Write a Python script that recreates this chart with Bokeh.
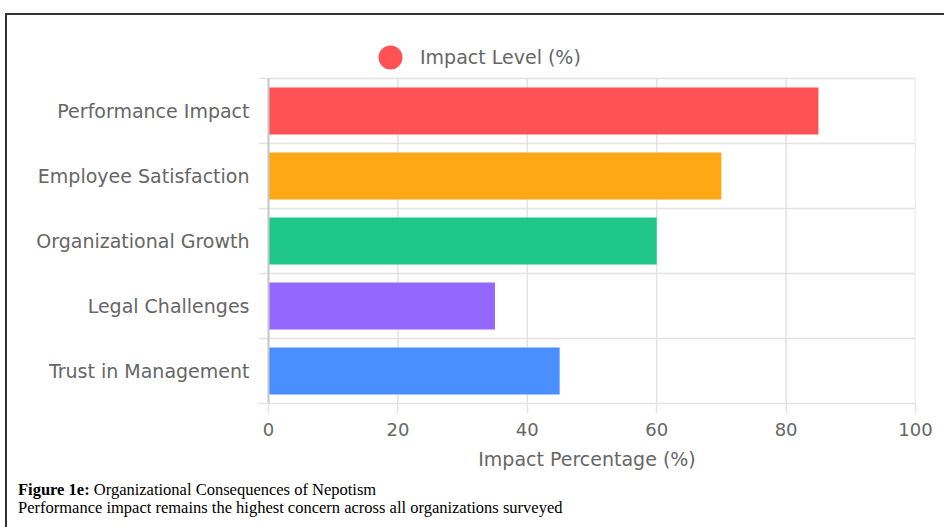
from bokeh.plotting import figure
from bokeh.models import (ColumnDataSource, FixedTicker, Grid, Range1d,
                          Legend, LegendItem, Div)
from bokeh.layouts import column
from bokeh.embed import file_html
from bokeh.resources import INLINE

# ---- data ----
categories = ["Performance Impact", "Employee Satisfaction", "Organizational Growth",
              "Legal Challenges", "Trust in Management"]
values = [85, 70, 60, 35, 45]
bar_colors = ["#FF5254", "#FFA816", "#20C78A", "#9468FF", "#4A8FFF"]
x_ticks = [0, 20, 40, 60, 80, 100]
series_name = "Impact Level (%)"
x_title = "Impact Percentage (%)"
caption_bold = "Figure 1e:"
caption_title = "Organizational Consequences of Nepotism"
caption_sub = "Performance impact remains the highest concern across all organizations surveyed"

n = len(categories)
ys = [n - i - 0.5 for i in range(n)]
src = ColumnDataSource(dict(y=ys, v=values, c=bar_colors, name=categories))

FONT = "DejaVu Sans"
GRID = "#e2e2e2"

# frame: 388 px tall, bar area = 5 bands of 65 px at the bottom, legend space on top
p = figure(width=937, height=462, output_backend="svg", toolbar_location=None,
           x_range=Range1d(-1.546, 100), y_range=Range1d(0, 388 / 65),
           min_border_left=251, min_border_right=29, min_border_top=0,
           min_border_bottom=74)
p.outline_line_color = None
p.background_fill_color = "white"
p.border_fill_color = "white"

# grid lines limited to the bar area
p.xgrid.visible = False
p.ygrid.visible = False
p.add_layout(Grid(dimension=1, ticker=FixedTicker(ticks=list(range(n + 1))),
                  grid_line_color=GRID, grid_line_width=1.5))
grid_src = ColumnDataSource(dict(x=x_ticks, y0=[0] * len(x_ticks), y1=[n] * len(x_ticks)))
p.segment(x0="x", x1="x", y0="y0", y1="y1", line_color=GRID, line_width=1.5,
          source=grid_src)

p.hbar(y="y", left=0, right="v", height=0.72, fill_color="c", line_color=None, source=src)

# darker zero line
p.segment(x0=[0], x1=[0], y0=[0], y1=[n], line_color="#c8c8c8", line_width=2)

# x axis
xa = p.xaxis[0]
xa.ticker = FixedTicker(ticks=x_ticks)
xa.axis_line_color = GRID
xa.axis_line_width = 1.5
xa.major_tick_line_color = GRID
xa.major_tick_line_width = 1.5
xa.major_tick_out = 10
xa.major_tick_in = 0
xa.minor_tick_line_color = None
xa.major_label_text_font = FONT
xa.major_label_text_font_size = "18px"
xa.major_label_text_color = "#666666"
xa.major_label_standoff = 9
xa.axis_label = x_title
xa.axis_label_text_font = FONT
xa.axis_label_text_font_size = "19px"
xa.axis_label_text_font_style = "normal"
xa.axis_label_text_color = "#666666"
xa.axis_label_standoff = 9

# y axis
ya = p.yaxis[0]
ya.ticker = FixedTicker(ticks=ys)
ya.major_label_overrides = {y: c for y, c in zip(ys, categories)}
ya.axis_line_color = None
ya.major_tick_line_color = None
ya.minor_tick_line_color = None
ya.major_label_text_font = FONT
ya.major_label_text_font_size = "19px"
ya.major_label_text_color = "#666666"
ya.major_label_standoff = 3

# legend inside the top band of the frame; the marker renderer is sized 0 on the plot,
# the legend draws its own circle swatch
swatch = p.scatter(x="v", y="y", source=src, marker="circle", size=0,
                   fill_color=bar_colors[0], line_color=None)
legend = Legend(items=[LegendItem(label=series_name, renderers=[swatch])],
                location=(102, 316), orientation="horizontal",
                glyph_width=60, glyph_height=60, label_standoff=0,
                padding=0, margin=0, spacing=0,
                border_line_color=None, background_fill_alpha=0,
                label_text_font=FONT, label_text_font_size="19px",
                label_text_color="#666666")
p.add_layout(legend, "center")

# caption below the chart
cap_html = (
    '<div style="font-family:\'Liberation Serif\',\'Times New Roman\',serif;'
    'font-size:16.5px;line-height:18px;color:#000;white-space:nowrap">'
    f'<b>{caption_bold}</b> {caption_title}<br>{caption_sub}</div>'
)
cap = Div(text=cap_html, width=926, height=46, margin=(4, 0, 0, 11))

layout = column(p, cap, margin=(13, 0, 0, 5), spacing=0,
                styles={"border-left": "2px solid #333333",
                        "border-top": "2px solid #333333",
                        "background": "white"})

open("out.html", "w").write(file_html(layout, INLINE))
